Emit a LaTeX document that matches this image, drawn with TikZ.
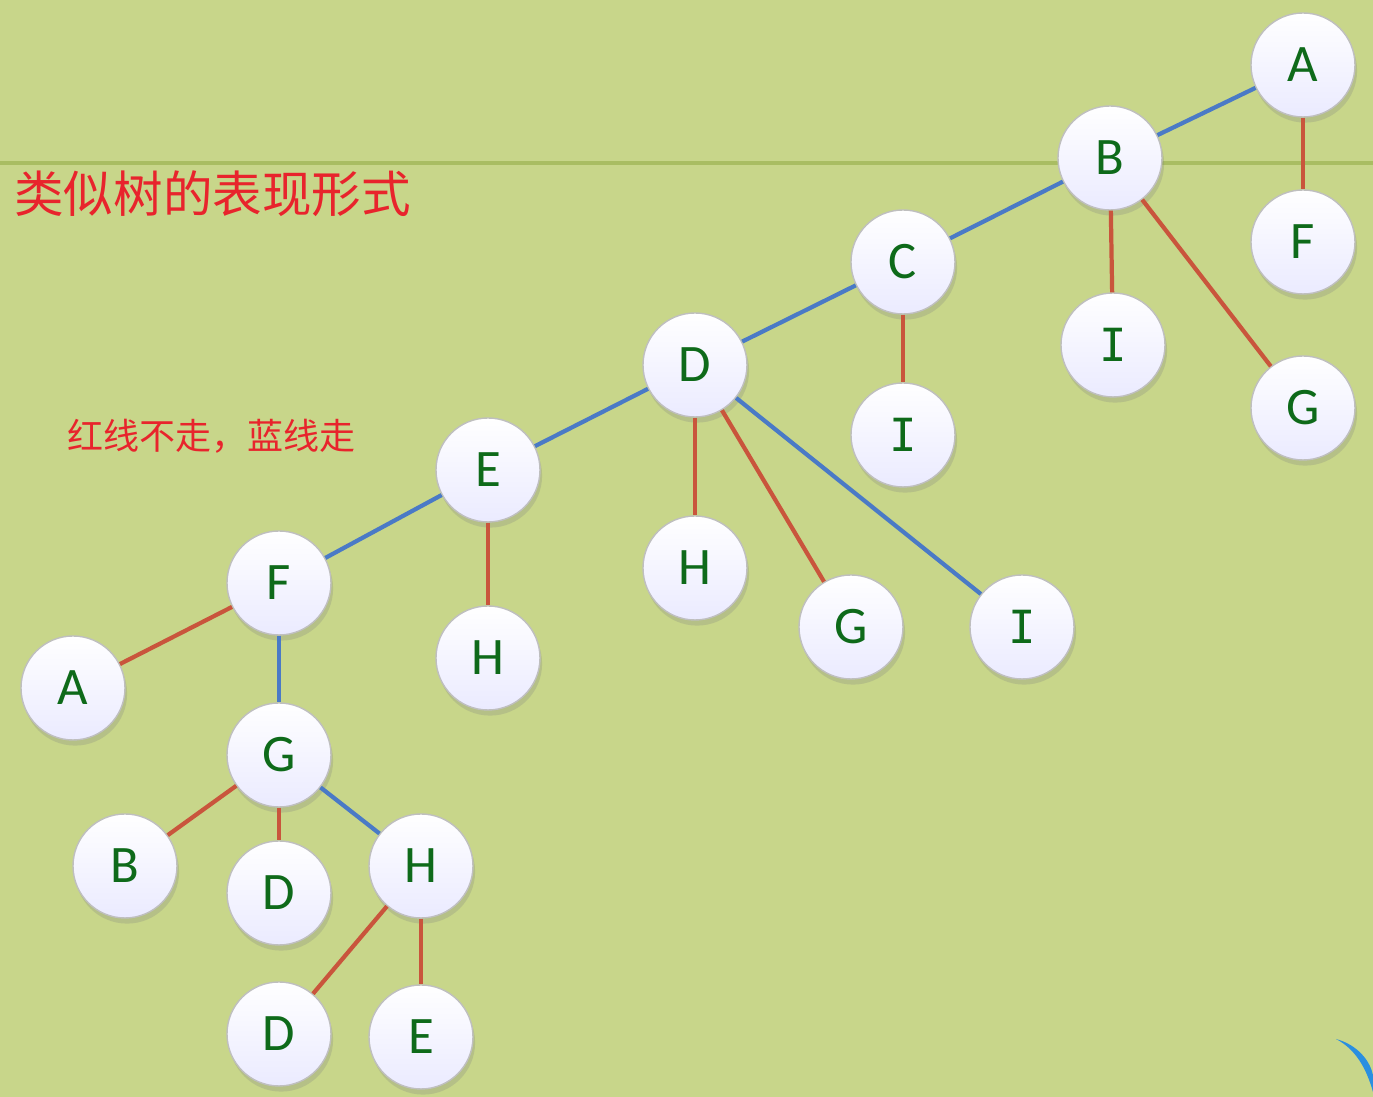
\documentclass[tikz,border=0pt]{standalone}
\usepackage{fontspec}
\setsansfont{Carlito}
\newfontfamily\cjk{Noto Sans CJK SC}
\newfontfamily\serifI{DejaVu Sans Mono}
\usetikzlibrary{shadows}
\definecolor{bggreen}{HTML}{C8D68A}
\definecolor{rulegreen}{HTML}{A9BD62}
\definecolor{letgreen}{HTML}{0E6A1A}
\definecolor{redline}{HTML}{C9553C}
\definecolor{blueline}{HTML}{4A7AC6}
\definecolor{titlered}{HTML}{E8242C}
\definecolor{arcblue}{HTML}{2A8FE0}
\tikzset{
  vert/.style={circle,minimum size=1.04cm,inner sep=0pt,draw=black!25,
    top color=white,bottom color=blue!8!white,
    drop shadow={opacity=0.25,shadow xshift=0.6pt,shadow yshift=-1.6pt},
    font=\sffamily\fontsize{15}{15}\selectfont,text=letgreen},
  redge/.style={redline,line width=1.2pt},
  bedge/.style={blueline,line width=1.2pt}
}
\newcommand{\lI}{{\serifI\fontsize{13}{13}\selectfont I}}
\begin{document}
\begin{tikzpicture}
\fill[bggreen] (0,0) rectangle (13.73,10.97);
\useasboundingbox (0,0) rectangle (13.73,10.97);
\draw[rulegreen,line width=1pt] (0,9.34) -- (13.73,9.34);
\fill[arcblue] (13.36,0.58) .. controls (13.58,0.52) and (13.7,0.36) .. (13.73,0.22)
  -- (13.73,0.05) .. controls (13.66,0.3) and (13.55,0.48) .. (13.36,0.58);

\node[anchor=west,text=titlered,font=\cjk\fontsize{14.1}{14.1}\selectfont] (title) at (0.02,9.03) {类似树的表现形式};
\node[anchor=west,text=titlered,font=\cjk\fontsize{10.25}{10.25}\selectfont] (note) at (0.55,6.61) {红线不走，蓝线走};

\node[vert] (a1) at (13.03,10.32) {A};
\node[vert] (b1) at (11.10,9.39) {B};
\node[vert] (f1) at (13.03,8.55) {F};
\node[vert] (c) at (9.03,8.35) {C};
\node[vert] (i1) at (11.13,7.52) {\lI};
\node[vert] (g1) at (13.03,6.89) {G};
\node[vert] (d) at (6.95,7.32) {D};
\node[vert] (i2) at (9.03,6.62) {\lI};
\node[vert] (e) at (4.88,6.27) {E};
\node[vert] (h1) at (6.95,5.29) {H};
\node[vert] (g2) at (8.51,4.70) {G};
\node[vert] (i3) at (10.22,4.70) {\lI};
\node[vert] (f) at (2.79,5.14) {F};
\node[vert] (h2) at (4.88,4.39) {H};
\node[vert] (a2) at (0.73,4.09) {A};
\node[vert] (g) at (2.79,3.42) {G};
\node[vert] (b2) at (1.25,2.31) {B};
\node[vert] (d2) at (2.79,2.04) {D};
\node[vert] (h) at (4.21,2.31) {H};
\node[vert] (d3) at (2.79,0.63) {D};
\node[vert] (e2) at (4.21,0.60) {E};

\draw[bedge] (a1) -- (b1);
\draw[redge] (a1) -- (f1);
\draw[bedge] (b1) -- (c);
\draw[redge] (b1) -- (i1);
\draw[redge] (b1) -- (g1);
\draw[bedge] (c) -- (d);
\draw[redge] (c) -- (i2);
\draw[bedge] (d) -- (e);
\draw[redge] (d) -- (h1);
\draw[redge] (d) -- (g2);
\draw[bedge] (d) -- (i3);
\draw[bedge] (e) -- (f);
\draw[redge] (e) -- (h2);
\draw[redge] (f) -- (a2);
\draw[bedge] (f) -- (g);
\draw[redge] (g) -- (b2);
\draw[redge] (g) -- (d2);
\draw[bedge] (g) -- (h);
\draw[redge] (h) -- (d3);
\draw[redge] (h) -- (e2);
\end{tikzpicture}
\end{document}
